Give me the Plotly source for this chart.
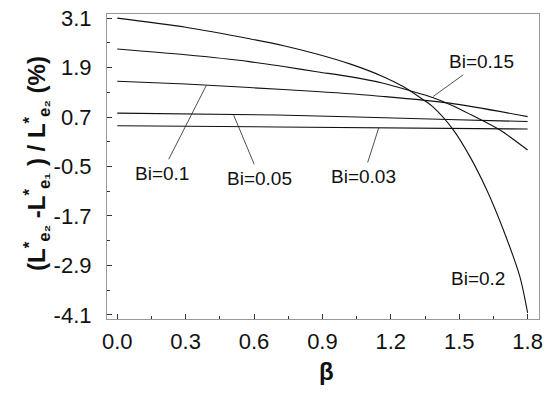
import plotly.graph_objects as go

# Data
beta_02 = [0.0, 0.3, 0.58, 0.73, 0.875, 1.02, 1.167, 1.254, 1.342, 1.386, 1.474, 1.547, 1.62, 1.693, 1.766, 1.8]
val_02 = [3.10, 2.88, 2.60, 2.43, 2.23, 1.99, 1.68, 1.44, 1.12, 0.94, 0.39, -0.26, -1.06, -2.03, -3.17, -4.05]

beta_015 = [0.0, 0.3, 0.58, 0.73, 0.875, 1.02, 1.167, 1.284, 1.386, 1.474, 1.55, 1.677, 1.8]
val_015 = [2.35, 2.21, 2.045, 1.925, 1.80, 1.68, 1.52, 1.34, 1.17, 0.97, 0.76, 0.39, -0.10]

beta_01 = [0.0, 0.3, 0.58, 0.875, 1.167, 1.459, 1.8]
val_01 = [1.57, 1.50, 1.415, 1.32, 1.20, 1.037, 0.71]

beta_005 = [0.0, 0.7, 1.45, 1.8]
val_005 = [0.795, 0.75, 0.64, 0.59]

beta_003 = [0.0, 0.7, 1.8]
val_003 = [0.49, 0.46, 0.41]

x_ticks = [0.0, 0.3, 0.6, 0.9, 1.2, 1.5, 1.8]
x_ticktext = ["0.0", "0.3", "0.6", "0.9", "1.2", "1.5", "1.8"]
y_ticks = [-4.1, -2.9, -1.7, -0.5, 0.7, 1.9, 3.1]
y_ticktext = ["-4.1", "-2.9", "-1.7", "-0.5", "0.7", "1.9", "3.1"]

# label text, target point on curve, text position (data units)
labels = ["Bi=0.1", "Bi=0.05", "Bi=0.03", "Bi=0.15"]
label_target_x = [0.39, 0.51, 1.147, 1.386]
label_target_y = [1.46, 0.755, 0.44, 1.20]
label_text_x = [0.195, 0.626, 1.079, 1.598]
label_text_y = [-0.66, -0.78, -0.74, 2.045]

FONT = "Liberation Sans, Arial, sans-serif"

fig = go.Figure()
for xs, ys in [(beta_02, val_02), (beta_015, val_015), (beta_01, val_01),
               (beta_005, val_005), (beta_003, val_003)]:
    fig.add_trace(go.Scatter(x=xs, y=ys, mode="lines",
                             line=dict(color="#111", width=1.1, shape="spline", smoothing=0.8),
                             showlegend=False, hoverinfo="skip"))

for t, tx, ty, px, py in zip(labels, label_target_x, label_target_y, label_text_x, label_text_y):
    fig.add_annotation(x=tx, y=ty, ax=px, ay=py, axref="x", ayref="y", xref="x", yref="y",
                       text=t, showarrow=True, arrowhead=0, arrowwidth=0.8, arrowcolor="#222",
                       font=dict(family=FONT, size=19, color="#111"), standoff=0, startstandoff=2)

fig.add_annotation(x=1.583, y=-3.21, text="Bi=0.2", showarrow=False,
                   font=dict(family=FONT, size=19, color="#111"))

# axis titles
fig.add_annotation(xref="paper", yref="paper", x=-0.205, y=0.51, textangle=-90, showarrow=False,
                   text="<b>(L<sup>*</sup><sub>e₂</sub> -L<sup>*</sup><sub>e₁</sub> ) / L<sup>*</sup><sub>e₂</sub> (%)</b>",
                   font=dict(family=FONT, size=24, color="#111"))
fig.add_annotation(xref="paper", yref="paper", x=0.509, y=-0.222, showarrow=False,
                   text="<b>β</b>", font=dict(family=FONT, size=24, color="#111"))

fig.update_layout(
    width=551, height=400,
    margin=dict(l=107, r=12, t=14, b=81),
    plot_bgcolor="white", paper_bgcolor="white",
    font=dict(family=FONT, color="#111"),
)
fig.update_xaxes(
    range=[-0.045, 1.85], tickvals=x_ticks, ticktext=x_ticktext, automargin=False,
    ticks="inside", ticklen=5, tickcolor="#333", tickwidth=1,
    minor=dict(ticks="inside", ticklen=3, dtick=0.15, tick0=0, tickcolor="#333"),
    showline=True, mirror=True, linecolor="#999", linewidth=1.2,
    showgrid=False, zeroline=False,
    tickfont=dict(family=FONT, size=22, color="#111"),
    ticklabelstandoff=2,
)
fig.update_yaxes(
    range=[-4.2, 3.2], tickvals=y_ticks, ticktext=y_ticktext, automargin=False,
    ticks="inside", ticklen=5, tickcolor="#333", tickwidth=1,
    minor=dict(ticks="inside", ticklen=3, dtick=0.6, tick0=-4.1, tickcolor="#333"),
    showline=True, mirror=True, linecolor="#999", linewidth=1.2,
    showgrid=False, zeroline=False,
    tickfont=dict(family=FONT, size=22, color="#111"),
    ticklabelstandoff=10,
)

fig.write_html("out.html", config={"displayModeBar": False},
               post_script="document.body.style.margin='0';")
